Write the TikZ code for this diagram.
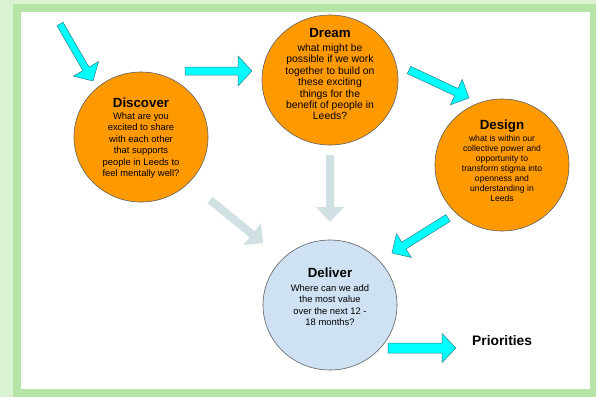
\documentclass[tikz,border=0pt]{standalone}
\usepackage{fontspec}
\setmainfont{Liberation Sans}
\usetikzlibrary{calc,shapes.geometric}
\definecolor{bgl}{HTML}{D9F2D0}
\definecolor{bgd}{HTML}{B6E3A6}
\definecolor{orng}{HTML}{FF9900}
\definecolor{dlv}{HTML}{CFE2F3}
\definecolor{cyn}{HTML}{00FFFF}
\definecolor{cynd}{HTML}{2E7F86}
\definecolor{gry}{HTML}{D0E0E3}
\definecolor{rim}{HTML}{5F5F5F}
% #1 style, #2 tail, #3 tip, #4 half shaft, #5 half head, #6 head length
\newcommand\blockarrow[6][]{%
  \coordinate (tmpc) at ($(#3)!#6pt!(#2)$);
  \draw[#1] ($(#2)!#4pt!90:(#3)$) -- ($(tmpc)!#4pt!90:(#3)$) -- ($(tmpc)!#5pt!90:(#3)$) -- (#3)
     -- ($(tmpc)!#5pt!-90:(#3)$) -- ($(tmpc)!#4pt!-90:(#3)$) -- ($(#2)!#4pt!-90:(#3)$) -- cycle;}
\tikzset{
  phase/.style={ellipse, draw=rim, line width=0.6pt, inner sep=0, fill=orng},
  ttl/.style={font=\fontsize{13.3}{15}\selectfont\bfseries, inner sep=0, anchor=base},
  bdy/.style={inner sep=0, anchor=base},
  cyarrow/.style={fill=cyn, draw=cynd, line width=0.5pt, line join=miter},
  gyarrow/.style={fill=gry, draw=none}
}
\begin{document}
\begin{tikzpicture}[x=1pt,y=-1pt]
\useasboundingbox (0,0) rectangle (596,397);
\fill[bgl] (0,0) rectangle (596,397);
\fill[bgd] (13,4) rectangle (596,397);
\fill[white] (21,12) rectangle (590,389);

% circles
\node[phase, minimum width=134pt, minimum height=130pt] (discover) at (141,137) {};
\node[phase, minimum width=136pt, minimum height=130pt] (dream) at (330,80) {};
\node[phase, minimum width=134pt, minimum height=132pt] (design) at (502,165) {};
\node[phase, fill=dlv, minimum width=134pt, minimum height=130pt] (deliver) at (330,305) {};

% arrow end points
\coordinate (a1t) at (60,24);   \coordinate (a1h) at (93,81);
\coordinate (a2t) at (185,71);  \coordinate (a2h) at (252,71);
\coordinate (a3t) at (409,70);  \coordinate (a3h) at (469,98);
\coordinate (a4t) at (448,218); \coordinate (a4h) at (392,253);
\coordinate (a5t) at (330,155); \coordinate (a5h) at (330,222);
\coordinate (a6t) at (210,200); \coordinate (a6h) at (263,243);
\coordinate (a7t) at (388,348); \coordinate (a7h) at (456,348);

\blockarrow[cyarrow]{a1t}{a1h}{3.5}{14.5}{14}
\blockarrow[cyarrow]{a2t}{a2h}{4}{15}{14}
\blockarrow[cyarrow]{a3t}{a3h}{4}{14}{14}
\blockarrow[cyarrow]{a4t}{a4h}{4}{14}{14}
\blockarrow[gyarrow]{a5t}{a5h}{4}{14}{15}
\blockarrow[gyarrow]{a6t}{a6h}{4}{14}{14}
\blockarrow[cyarrow]{a7t}{a7h}{5}{14.5}{14}

% texts
\node[ttl] (discT) at (141,107.8) {Discover};
\node[bdy, font=\fontsize{9.4}{11.4}\selectfont] (discB) at (141,119.5)
  {\begin{tabular}[t]{@{}c@{}}What are you\\excited to share\\with each other\\that supports\\people in Leeds to\\feel mentally well?\end{tabular}};

\node[ttl] (dreamT) at (330,37.8) {Dream};
\node[bdy, font=\fontsize{10.4}{11.4}\selectfont] (dreamB) at (330,51.5)
  {\begin{tabular}[t]{@{}c@{}}what might be\\possible if we work\\together to build on\\these exciting\\things for the\\benefit of people in\\Leeds?\end{tabular}};

\node[ttl] (designT) at (502,129.7) {Design};
\node[bdy, font=\fontsize{8.6}{10}\selectfont] (designB) at (502,141.2)
  {\begin{tabular}[t]{@{}c@{}}what is within our\\collective power and\\opportunity to\\transform stigma into\\openness and\\understanding in\\Leeds\end{tabular}};

\node[ttl] (deliverT) at (330,277.8) {Deliver};
\node[bdy, font=\fontsize{9.4}{11.3}\selectfont] (deliverB) at (330,291.5)
  {\begin{tabular}[t]{@{}c@{}}Where can we add\\the most value\\over the next 12 -\\18 months?\end{tabular}};

\node[anchor=base west, inner sep=0, font=\fontsize{13.8}{16}\selectfont\bfseries] (prio) at (472,345) {Priorities};
\end{tikzpicture}
\end{document}
